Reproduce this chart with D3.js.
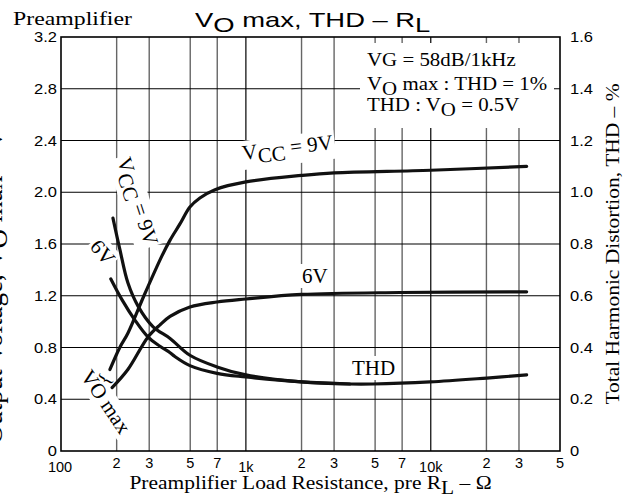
<!DOCTYPE html>
<html><head><meta charset="utf-8">
<script src="https://cdn.jsdelivr.net/npm/d3@7"></script>
<style>
body{margin:0;background:#fff;}
svg{display:block;}
.serif{font-family:"Liberation Serif","Times New Roman",serif;}
.sans{font-family:"Liberation Sans",Arial,sans-serif;}
</style></head>
<body><svg id="c" width="634" height="494"></svg>
<script>
// ---- data ----
const xTickValues = [100,200,300,500,700,1000,2000,3000,5000,7000,10000,20000,30000,50000];
const xTickLabels = ["100","2","3","5","7","1k","2","3","5","7","10k","2","3","5"];
const yLeftTicks = [0,0.4,0.8,1.2,1.6,2.0,2.4,2.8,3.2];
const yLeftLabels = ["0","0.4","0.8","1.2","1.6","2.0","2.4","2.8","3.2"];
const yRightTicks = [0,0.2,0.4,0.6,0.8,1.0,1.2,1.4,1.6];
const yRightLabels = ["0","0.2","0.4","0.6","0.8","1.0","1.2","1.4","1.6"];

// Vo max (V), left axis
const vo9R = [184,208,230,281,352,389,440,498,564,681,1000,2000,3000,10000,33000];
const vo9V = [0.63,0.80,0.91,1.20,1.51,1.63,1.755,1.886,1.956,2.02,2.08,2.13,2.15,2.17,2.20];
const vo6R = [189,230,295,343,389,498,698,1000,2000,6800,33000];
const vo6V = [0.49,0.63,0.88,0.975,1.04,1.113,1.152,1.175,1.21,1.225,1.23];
// THD (%), right axis
const thd9R = [191,208,230,261,315,389,498,698,1000,2000,3650,4870,9900,20100,33000];
const thd9V = [0.90,0.78,0.65,0.56,0.48,0.435,0.37,0.325,0.294,0.267,0.259,0.259,0.267,0.282,0.294];
const thd6R = [186,214,251,295,343,389,413,498,698,1000,2000,3650];
const thd6V = [0.665,0.584,0.506,0.441,0.405,0.38,0.365,0.33,0.30,0.286,0.267,0.259];

// ---- layout ----
const svg = d3.select("#c");
const L=61,R=560,T=37,B=451;
const x = d3.scaleLog().domain([100,50000]).range([L,R]);
const yL = d3.scaleLinear().domain([0,3.2]).range([B,T]);
const yR = d3.scaleLinear().domain([0,1.6]).range([B,T]);

// scaled text helper: parts = [[text, dy], ...]
function stext(parent, tx, ty, opts, parts){
  const o = Object.assign({rot:0, sx:1, size:18, cls:"serif", anchor:"start", bg:false}, opts);
  const gg = parent.append("g").attr("transform",`translate(${tx},${ty}) rotate(${o.rot}) scale(${o.sx},1)`);
  const t = gg.append("text").attr("class",o.cls).attr("font-size",o.size).attr("text-anchor",o.anchor).attr("fill","#000");
  parts.forEach(p=>t.append("tspan").attr("dy",p[1]||0).text(p[0]));
  if(o.bg){
    const bb = t.node().getBBox();
    gg.insert("rect","text").attr("x",bb.x-2).attr("y",bb.y).attr("width",bb.width+4).attr("height",bb.height).attr("fill","#fff");
  }
  return gg;
}

// grid
const g = svg.append("g");
g.selectAll("line.v").data(xTickValues.slice(1,-1)).enter().append("line")
  .attr("x1",d=>x(d)).attr("x2",d=>x(d)).attr("y1",T).attr("y2",B)
  .attr("stroke",d=>(d===1000||d===10000)?"#000":"#666")
  .attr("stroke-width",d=>(d===1000||d===10000)?1.2:1.4);
g.selectAll("line.h").data(yLeftTicks.slice(1,-1)).enter().append("line")
  .attr("x1",L).attr("x2",R).attr("y1",d=>yL(d)).attr("y2",d=>yL(d))
  .attr("stroke","#000").attr("stroke-width",1.1);

// legend box (covers grid)
svg.append("rect").attr("x",360).attr("y",43).attr("width",194).attr("height",85).attr("fill","#fff");

// frame
svg.append("rect").attr("x",L).attr("y",T).attr("width",R-L).attr("height",B-T)
  .attr("fill","none").attr("stroke","#000").attr("stroke-width",1.6);

// tick labels
const xl = svg.append("g");
xTickValues.forEach((d,i)=>{
  stext(xl, x(d)+(i===0?-1:0), xTickLabels[i].length>1?472:468, {cls:"sans",size:14.5,anchor:"middle"}, [[xTickLabels[i]]]);
});
const yll = svg.append("g");
yLeftTicks.forEach((d,i)=>stext(yll, 57, yL(d)+5, {cls:"sans",size:15,anchor:"end",sx:1.1}, [[yLeftLabels[i]]]));
const yrl = svg.append("g");
yRightTicks.forEach((d,i)=>stext(yrl, 570, yR(d)+5, {cls:"sans",size:15,anchor:"start",sx:1.1}, [[yRightLabels[i]]]));

// in-plot labels
stext(svg, 243, 160, {rot:-7, size:21, bg:true}, [["V",0],["CC",5],[" = 9V",-5]]);
stext(svg, 302, 283, {size:21, bg:true}, [["6V",0]]);
stext(svg, 352, 375, {size:21, bg:true}, [["THD",0]]);
stext(svg, 117, 160, {rot:72, size:21, bg:true}, [["V",0],["CC",5],[" = 9V",-5]]);
stext(svg, 89, 247, {rot:50, size:21, bg:true}, [["6V",0]]);
stext(svg, 80, 376, {rot:56, size:21, bg:true}, [["V",0],["O",0],[" max",0]]);
stext(svg, 110, 382, {rot:-60, size:19, anchor:"middle"}, [["{",0]]);

// curves
const line = d3.line().curve(d3.curveCatmullRom.alpha(0.5));
function curve(rs,vs,ys){
  svg.append("path").attr("d",line(rs.map((r,i)=>[x(r),ys(vs[i])])))
    .attr("fill","none").attr("stroke","#111").attr("stroke-width",3.2).attr("stroke-linecap","round");
}
curve(vo9R,vo9V,yL);
curve(vo6R,vo6V,yL);
curve(thd9R,thd9V,yR);
curve(thd6R,thd6V,yR);

// legend
stext(svg, 367, 66, {size:18.5, sx:1.13}, [["VG = 58dB/1kHz",0]]);
stext(svg, 367, 90, {size:18.5, sx:1.13}, [["V",0],["O",5],[" max : THD = 1%",-5]]);
stext(svg, 367, 111, {size:18.5, sx:1.13}, [["THD : V",0],["O",5],[" = 0.5V",-5]]);

// titles
stext(svg, 13, 25, {size:19.5, sx:1.22}, [["Preamplifier",0]]);
stext(svg, 195, 27, {cls:"sans", size:20, sx:1.37}, [["V",0],["O",5],[" max, THD – R",-5],["L",5]]);
stext(svg, 310.5, 489, {size:19, sx:1.13, anchor:"middle"}, [["Preamplifier Load Resistance, pre R",0],["L",5],[" – Ω",-5]]);
stext(svg, 2, 287, {rot:-90, size:27, sx:1.0, anchor:"middle"}, [["Output Voltage, V",0],["O",5],[" max – V",-5]]);
stext(svg, 619, 244, {rot:-90, size:19, sx:1.13, anchor:"middle"}, [["Total Harmonic Distortion, THD – %",0]]);
</script></body></html>
